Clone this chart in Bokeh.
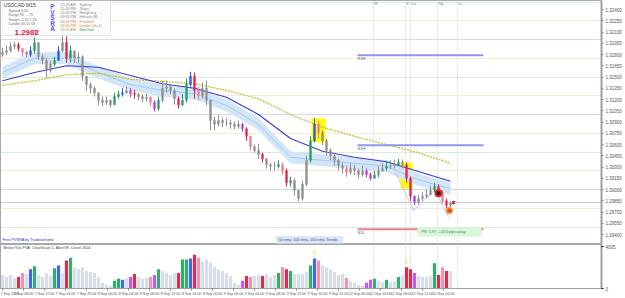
from bokeh.plotting import figure
from bokeh.layouts import column
from bokeh.models import (Range1d, FixedTicker, BoxAnnotation, Label, ColumnDataSource,
                          Span, NumeralTickFormatter)
from bokeh.core.properties import value
from bokeh.embed import file_html
from bokeh.resources import INLINE

FONT = "Liberation Sans"

# ---------------- data ----------------
symbol_text = "USDCAD  M15"
bid_price = 1.29827
first_open = 1.3180

bar_close = [1.3183, 1.3185, 1.3191, 1.3193, 1.3188, 1.3183, 1.3180, 1.3185, 1.3196, 1.3177,
             1.3172, 1.3159, 1.3167, 1.3172, 1.3185, 1.3196, 1.3175, 1.3185, 1.3175, 1.3177,
             1.3151, 1.3140, 1.3135, 1.3129, 1.3119, 1.3116, 1.3119, 1.3113, 1.3124, 1.3127,
             1.3129, 1.3132, 1.3128, 1.3127, 1.3124, 1.3121, 1.3123, 1.3116, 1.3108, 1.3119,
             1.3135, 1.3137, 1.3132, 1.3121, 1.3113, 1.3119, 1.3140, 1.3151, 1.3132, 1.3125,
             1.3135, 1.3119, 1.3092, 1.3087, 1.3092, 1.3089, 1.3089, 1.3087, 1.3084, 1.3087,
             1.3081, 1.3071, 1.3057, 1.3052, 1.3047, 1.3041, 1.3033, 1.3031, 1.3031, 1.3033,
             1.3025, 1.3009, 1.3012, 1.2999, 1.2988, 1.3007, 1.3039, 1.3065, 1.3087, 1.3076,
             1.3065, 1.3052, 1.3045, 1.3039, 1.3032, 1.3028, 1.3023, 1.3028, 1.3025, 1.3020,
             1.3025, 1.3020, 1.3015, 1.3019, 1.3025, 1.3028, 1.3031, 1.3032, 1.3033, 1.3036,
             1.3033, 1.3015, 1.2991, 1.2983, 1.2988, 1.2991, 1.2993, 1.2999, 1.3004, 1.2996,
             1.2985, 1.2979, 1.2982]

bar_high = [1.3189, 1.3192, 1.3196, 1.3197, 1.3196, 1.3188, 1.3185, 1.3191, 1.3203, 1.3196,
            1.3180, 1.3175, 1.3172, 1.3177, 1.3191, 1.3205, 1.3204, 1.3192, 1.3183, 1.3183,
            1.3179, 1.3151, 1.3143, 1.3137, 1.3128, 1.3124, 1.3124, 1.3120, 1.3129, 1.3132,
            1.3135, 1.3137, 1.3135, 1.3133, 1.3129, 1.3127, 1.3128, 1.3124, 1.3119, 1.3124,
            1.3145, 1.3145, 1.3140, 1.3135, 1.3124, 1.3127, 1.3148, 1.3157, 1.3156, 1.3137,
            1.3143, 1.3145, 1.3119, 1.3097, 1.3099, 1.3096, 1.3095, 1.3093, 1.3091, 1.3092,
            1.3089, 1.3083, 1.3071, 1.3060, 1.3061, 1.3049, 1.3041, 1.3036, 1.3037, 1.3039,
            1.3036, 1.3028, 1.3017, 1.3015, 1.3000, 1.3012, 1.3045, 1.3071, 1.3095, 1.3092,
            1.3079, 1.3068, 1.3055, 1.3049, 1.3041, 1.3036, 1.3033, 1.3035, 1.3033, 1.3028,
            1.3032, 1.3028, 1.3023, 1.3025, 1.3031, 1.3035, 1.3037, 1.3039, 1.3040, 1.3041,
            1.3040, 1.3036, 1.3017, 1.2992, 1.2993, 1.2997, 1.3000, 1.3005, 1.3009, 1.3007,
            1.2999, 1.2988, 1.2984]

bar_low = [1.3177, 1.3179, 1.3183, 1.3187, 1.3184, 1.3177, 1.3176, 1.3177, 1.3181, 1.3173,
           1.3167, 1.3149, 1.3156, 1.3164, 1.3172, 1.3183, 1.3169, 1.3169, 1.3169, 1.3169,
           1.3145, 1.3132, 1.3128, 1.3124, 1.3113, 1.3111, 1.3113, 1.3109, 1.3113, 1.3121,
           1.3124, 1.3127, 1.3123, 1.3121, 1.3119, 1.3116, 1.3117, 1.3111, 1.3104, 1.3105,
           1.3116, 1.3129, 1.3127, 1.3113, 1.3108, 1.3111, 1.3116, 1.3137, 1.3121, 1.3119,
           1.3121, 1.3112, 1.3079, 1.3079, 1.3084, 1.3083, 1.3084, 1.3081, 1.3080, 1.3081,
           1.3077, 1.3065, 1.3052, 1.3049, 1.3041, 1.3036, 1.3028, 1.3025, 1.3025, 1.3028,
           1.3020, 1.3004, 1.3004, 1.2992, 1.2984, 1.2985, 1.3004, 1.3036, 1.3063, 1.3068,
           1.3059, 1.3045, 1.3039, 1.3032, 1.3025, 1.3021, 1.3017, 1.3020, 1.3019, 1.3015,
           1.3017, 1.3016, 1.3012, 1.3015, 1.3016, 1.3023, 1.3025, 1.3027, 1.3028, 1.3031,
           1.3028, 1.3009, 1.2985, 1.2979, 1.2980, 1.2985, 1.2988, 1.2992, 1.2996, 1.2991,
           1.2981, 1.2972, 1.2967]

bar_volume = [1270, 1090, 1270, 1000, 1090, 1460, 1370, 1820, 2090, 1270,
              1090, 1460, 1180, 1910, 2180, 1460, 2640, 2910, 2000, 1820,
              2000, 1640, 1550, 1460, 1090, 550, 360, 270, 730, 910,
              820, 1000, 1090, 1370, 1090, 910, 1000, 1090, 1270, 1820,
              1640, 1460, 1270, 1460, 1460, 2730, 2730, 2820, 3190, 2910,
              2550, 2730, 2460, 2000, 1820, 1640, 1460, 1180, 550, 360,
              730, 1180, 1090, 1180, 1270, 1180, 1370, 1090, 1270, 1460,
              2000, 1820, 1640, 1370, 1370, 1370, 1550, 2180, 2820, 2640,
              2180, 2000, 1820, 1550, 1270, 1370, 1000, 730, 550, 360,
              270, 550, 820, 910, 730, 640, 820, 640, 730, 1090,
              1270, 2000, 1820, 1460, 1180, 1090, 1090, 1180, 2370, 1270,
              2000, 1640, 1640]

# PVSRA class per bar: n normal, r climax bear, g climax bull, b rising bull, m rising bear, p weak bear
pvsra_class = ("nnnnrpnbgn" "nnngbnrgnn" "nnnnnnnngg" "bnmrnnnpmg" "nnnnrggbrp"
               "nnnnnnnnnn" "mrpnnrnnng" "prgnnnngbp" "nnnnnnpnnn" "nmmgnngnng"
               "nrrmnnnngr" "prn")

ema_bars = [0, 8, 16, 24, 32, 40, 48, 56, 64, 72, 80, 88, 96, 104, 112]
ema50 = [1.3156, 1.3175, 1.3175, 1.3156, 1.3140, 1.3132, 1.3128, 1.3112, 1.3087, 1.3043,
         1.3039, 1.3035, 1.3031, 1.3013, 1.3001]
ema100 = [1.3145, 1.3156, 1.3165, 1.3163, 1.3152, 1.3141, 1.3135, 1.3123, 1.3100, 1.3068,
          1.3051, 1.3043, 1.3037, 1.3024, 1.3011]
ema200 = [1.3139, 1.3145, 1.3153, 1.3155, 1.3147, 1.3144, 1.3141, 1.3132, 1.3121, 1.3100,
          1.3083, 1.3071, 1.3060, 1.3049, 1.3035]

level_prices = [1.3250, 1.3225, 1.3200, 1.3175, 1.3150, 1.3125, 1.3100, 1.3075,
                1.3050, 1.3025, 1.3000, 1.2975, 1.2950]
price_ticks = [1.3240, 1.3225, 1.3210, 1.3195, 1.3180, 1.3165, 1.3150, 1.3135, 1.3120,
               1.3105, 1.3090, 1.3075, 1.3060, 1.3045, 1.3030, 1.3015, 1.3000, 1.2985,
               1.2970, 1.2955, 1.2940]

time_labels = ["7 Sep 2022", "7 Sep 08:00", "7 Sep 12:00", "7 Sep 16:00", "7 Sep 20:00",
               "8 Sep 00:00", "8 Sep 04:00", "8 Sep 08:00", "8 Sep 12:00", "8 Sep 16:00",
               "8 Sep 20:00", "9 Sep 00:00", "9 Sep 04:00", "9 Sep 08:00", "9 Sep 12:00",
               "9 Sep 16:00", "9 Sep 20:00", "12 Sep 00:00", "12 Sep 04:00", "12 Sep 08:00",
               "12 Sep 12:00", "12 Sep 16:00"]
time_label_bars = [0, 5.25, 10.5, 15.75, 21, 26.25, 31.5, 36.75, 42, 47.25, 52.5,
                   57.75, 63, 68.25, 73.5, 78.75, 84, 89.25, 94.5, 99.75, 105, 110.25]

session_names = ["H", "F", "Lo", "Ny", "Lc"]
session_bars = [92.75, 100.75, 102.0, 108.75, 113.75]

pivot_names = ["R1H", "S1H", "S1L"]
pivot_prices = [1.3179, 1.3059, 1.2947]
pivot_start_bar = 88.75
pivot_end_bar = 120.25

zone_x0 = [77.25, 99.5]
zone_x1 = [80.75, 102.5]
zone_lo = [1.3063, 1.3001]
zone_hi = [1.3095, 1.3036]

zz_bars = [98.25, 102.75, 108.0]
zz_prices = [1.3023, 1.2972, 1.2999]
zz2_bars = [108.75, 111.5]
zz2_prices = [1.2992, 1.2963]

signal_bars = [109, 111.75]
signal_prices = [1.2995, 1.2972]

arrow_bars = [78, 101]

session_clock = [("12:43 AM", "Sydney"), ("11:43 PM", "Tokyo"), ("10:43 PM", "Hongkong"),
                 ("09:43 PM", "Helsinki (B)"), ("04:43 PM", "Frankfurt"),
                 ("03:43 PM", "London (G+1)"), ("10:43 AM", "NewYork")]
info_lines = ["Spread  0.00", "Range  96 ... 75", "Swaps  -2.53  1.18", "Candle  00:01:58"]

# ---------------- styling ----------------
CANDLE = {"n": "#909090", "r": "#e3264f", "g": "#24a064", "b": "#3355ee", "m": "#b83ee8", "p": "#ee7d9c"}
VOLC = {"n": "#d9dfe8", "r": "#dc2c50", "g": "#2fae6e", "b": "#4466f0", "m": "#c25af2", "p": "#f294ae"}

W = 625
RIGHT = 24
FRAME_W = W - RIGHT
X_END = (FRAME_W - 2) / 4.0
P_TOP = 1.3252
PPU = 7500.0          # pixels per price unit
MAIN_H = 244
VOL_H = 54
RIB = 0.0008


def bx(px):
    return (px - 2) / 4.0


def py(ypx):
    return P_TOP - ypx / PPU


n = len(bar_close)
opens = [first_open] + bar_close[:-1]
src = ColumnDataSource(dict(
    x=list(range(n)), o=opens, c=bar_close, h=bar_high, l=bar_low,
    top=[max(a, b) for a, b in zip(opens, bar_close)],
    bot=[min(a, b) for a, b in zip(opens, bar_close)],
    cc=[CANDLE[k] for k in pvsra_class], vc=[VOLC[k] for k in pvsra_class],
    v=bar_volume))

p = figure(width=W, height=MAIN_H, x_range=Range1d(-0.5, X_END),
           y_range=Range1d(P_TOP - MAIN_H / PPU, P_TOP),
           output_backend="svg", toolbar_location=None, x_axis_location=None,
           y_axis_location="right", min_border_left=0, min_border_top=0,
           min_border_bottom=0, min_border_right=RIGHT)
p.grid.visible = False
p.outline_line_color = "#a8a8a8"
p.background_fill_color = "white"

lvl_colors = []
for lv in level_prices:
    k = int(round(lv * 10000)) % 100
    lvl_colors.append("#d6d6f5" if k == 0 else ("#d4efd6" if k == 50 else "#efeed6"))
p.hspan(y=level_prices, line_color=lvl_colors, line_width=1)
p.vspan(x=session_bars, line_color="#c6c6c6", line_dash="1 2", line_width=1)

p.quad(left=zone_x0, right=zone_x1, bottom=zone_lo, top=zone_hi,
       fill_color="#ffff00", line_color=None)

p.varea(x=ema_bars, y1=[v - RIB for v in ema50], y2=[v + RIB for v in ema50],
        fill_color="#d2e6f8")
p.line(ema_bars, ema50, line_color="#a6c9ee", line_width=1)
p.line(ema_bars, ema200, line_color="#c9c23c", line_width=1.4, line_dash="2 1")
p.line(ema_bars, ema100, line_color="#3c3cd2", line_width=1.2)

p.segment(x0=[pivot_start_bar] * 3, x1=[pivot_end_bar] * 3, y0=pivot_prices, y1=pivot_prices,
          line_color=["#8f96ea", "#8f96ea", "#e88090"], line_width=2)
p.text(x=[pivot_start_bar] * 3, y=[v - 3 / PPU for v in pivot_prices], text=pivot_names,
       text_font=value(FONT), text_font_size="4px", text_color="#555555",
       text_baseline="middle", text_align="left")

p.line(zz_bars, zz_prices, line_color="#c5c9ef", line_width=1)
p.line(zz2_bars, zz2_prices, line_color="#c5c9ef", line_width=1)

p.segment(x0="x", x1="x", y0="l", y1="h", line_color="cc", line_width=1, source=src)
p.vbar(x="x", width=0.45, top="top", bottom="bot", fill_color="cc", line_color="cc",
       line_width=0.5, source=src)

p.scatter(x=[signal_bars[0]], y=[signal_prices[0]], size=6, fill_color="#222222",
          line_color="#e02020", line_width=2)
p.scatter(x=[signal_bars[1]], y=[signal_prices[1]], size=6, fill_color="#e05018",
          line_color="#f0a848", line_width=1.5)
p.scatter(x=[n - 1 + 0.75], y=[bid_price], marker="square", size=3,
          fill_color="#e02020", line_color=None)

p.text(x=session_bars, y=[py(3)] * len(session_bars), text=session_names,
       text_font=value(FONT), text_font_size="4px", text_color="#777777",
       text_baseline="middle", text_align="left", x_offset=1)

p.add_layout(Span(location=bid_price, dimension="width", line_color="#9a9a9a",
                  line_dash="1 1", line_width=1))

# y axis
p.yaxis.ticker = FixedTicker(ticks=price_ticks)
p.yaxis.formatter = NumeralTickFormatter(format="0.00000")
p.yaxis.major_label_text_font = FONT
p.yaxis.major_label_text_font_size = "4.5px"
p.yaxis.major_label_text_color = "#555555"
p.yaxis.major_tick_out = 2
p.yaxis.major_tick_in = 0
p.yaxis.minor_tick_line_color = None
p.yaxis.axis_line_color = "#a0a0a0"
p.yaxis.axis_line_width = 2
p.yaxis.major_tick_line_color = "#888888"
p.yaxis.major_label_standoff = 2

p.add_layout(Label(x=X_END + 0.4, y=bid_price, text="1.29827", text_font=FONT,
                   text_font_size="4.5px", text_color="white", text_baseline="middle",
                   text_align="left", background_fill_color="black", padding=1))

# info panel
p.add_layout(BoxAnnotation(left=-0.5, right=bx(110), top=P_TOP, bottom=py(35),
                           fill_color="#fbfbfb", fill_alpha=1.0, line_color="#b0b0b0",
                           line_width=1))
p.add_layout(Label(x=bx(3), y=py(4), text=symbol_text, text_font=FONT, text_font_size="5px",
                   text_color="#444444", text_baseline="middle"))
for i, t in enumerate(info_lines):
    p.add_layout(Label(x=bx(8), y=py(10 + 4.6 * i), text=t, text_font=FONT,
                       text_font_size="3.6px", text_color="#777777", text_baseline="middle"))
p.add_layout(Label(x=bx(14), y=py(32), text="1.2982", text_font=FONT, text_font_size="8px",
                   text_font_style="bold", text_color="#e0203c", text_baseline="middle"))
p.add_layout(Label(x=bx(34), y=py(31), text="7", text_font=FONT, text_font_size="4.5px",
                   text_font_style="bold", text_color="#e0203c", text_baseline="middle"))
for i, ch in enumerate("PVSRA"):
    p.add_layout(Label(x=bx(52), y=py(6 + 5.6 * i), text=ch, text_font=FONT,
                       text_font_size="6.5px", text_font_style="bold", text_color="#5a5af5",
                       text_baseline="middle", text_align="center"))
clock_time_col = ["#8a8a8a"] * 4 + ["#d88a3c", "#d88a3c", "#c09050"]
clock_name_col = ["#8a8a8a"] * 4 + ["#d88a3c", "#d88a3c", "#2ea055"]
for i, (tm, nm) in enumerate(session_clock):
    yy = py(4 + 4.25 * i)
    p.add_layout(Label(x=bx(60), y=yy, text=tm, text_font=FONT, text_font_size="3.6px",
                       text_color=clock_time_col[i], text_baseline="middle"))
    p.add_layout(Label(x=bx(79), y=yy, text=nm, text_font=FONT, text_font_size="3.6px",
                       text_color=clock_name_col[i], text_baseline="middle"))

# bottom notes in main panel
p.add_layout(Label(x=bx(2), y=py(239), text="Free PVSRA by Traderathome", text_font=FONT,
                   text_font_size="3.8px", text_color="#2a35d0", text_baseline="middle"))
p.add_layout(BoxAnnotation(left=bx(275), right=bx(343), top=py(235.5), bottom=py(243),
                           fill_color="#dde7f5", fill_alpha=1.0, line_color=None))
p.add_layout(Label(x=bx(278), y=py(239.3), text="50 ema, 100 ema, 200 ema Trends",
                   text_font=FONT, text_font_size="3.8px", text_color="#3344aa",
                   text_baseline="middle"))
p.add_layout(BoxAnnotation(left=bx(417), right=bx(481), top=py(227.5), bottom=py(236),
                           fill_color="#d9f6d9", fill_alpha=1.0, line_color=None))
p.add_layout(Label(x=bx(421), y=py(231.8), text="PS: 1.97, +13.0 pips away",
                   text_font=FONT, text_font_size="3.8px", text_color="#4a7a4a",
                   text_baseline="middle"))

# ---------------- volume panel ----------------
v_top = 4150
p2 = figure(width=W, height=VOL_H, x_range=p.x_range, y_range=Range1d(0, v_top),
            output_backend="svg", toolbar_location=None, y_axis_location="right",
            min_border_left=0, min_border_top=0, min_border_bottom=0, min_border_right=RIGHT)
p2.grid.visible = False
p2.outline_line_color = "#a8a8a8"
p2.vspan(x=session_bars, line_color="#c6c6c6", line_dash="1 2", line_width=1)
p2.vbar(x="x", top="v", width=0.8, fill_color="vc", line_color=None, source=src)
p2.text(x=arrow_bars, y=[bar_volume[i] + 150 for i in arrow_bars], text=["⇩"] * len(arrow_bars),
        text_font=value("DejaVu Sans"), text_font_size="7px", text_color="#f0e020",
        text_align="center", text_baseline="bottom")
p2.add_layout(Label(x=bx(3), y=v_top * 0.93, text="BrokerTick PVA:  ChartScale 1,  AlertOff,  Count  1604",
                    text_font=FONT, text_font_size="3.8px", text_color="#444444",
                    text_baseline="middle"))

p2.xaxis.ticker = FixedTicker(ticks=time_label_bars)
p2.xaxis.major_label_overrides = {t: s for t, s in zip(time_label_bars, time_labels)}
p2.xaxis.major_label_text_align = "left"
p2.xaxis.major_label_text_font = FONT
p2.xaxis.major_label_text_font_size = "3.6px"
p2.xaxis.major_label_text_color = "#555555"
p2.xaxis.major_tick_out = 2
p2.xaxis.major_tick_in = 0
p2.xaxis.minor_tick_line_color = None
p2.xaxis.axis_line_color = "#a0a0a0"
p2.xaxis.major_tick_line_color = "#888888"
p2.xaxis.major_label_standoff = 1

p2.yaxis.ticker = FixedTicker(ticks=[0, 4005])
p2.yaxis.major_label_text_font = FONT
p2.yaxis.major_label_text_font_size = "4.5px"
p2.yaxis.major_label_text_color = "#555555"
p2.yaxis.major_tick_out = 2
p2.yaxis.major_tick_in = 0
p2.yaxis.minor_tick_line_color = None
p2.yaxis.axis_line_color = "#a0a0a0"
p2.yaxis.axis_line_width = 2
p2.yaxis.major_label_standoff = 2

layout = column(p, p2, spacing=0)
open("out.html", "w").write(file_html(layout, INLINE))
